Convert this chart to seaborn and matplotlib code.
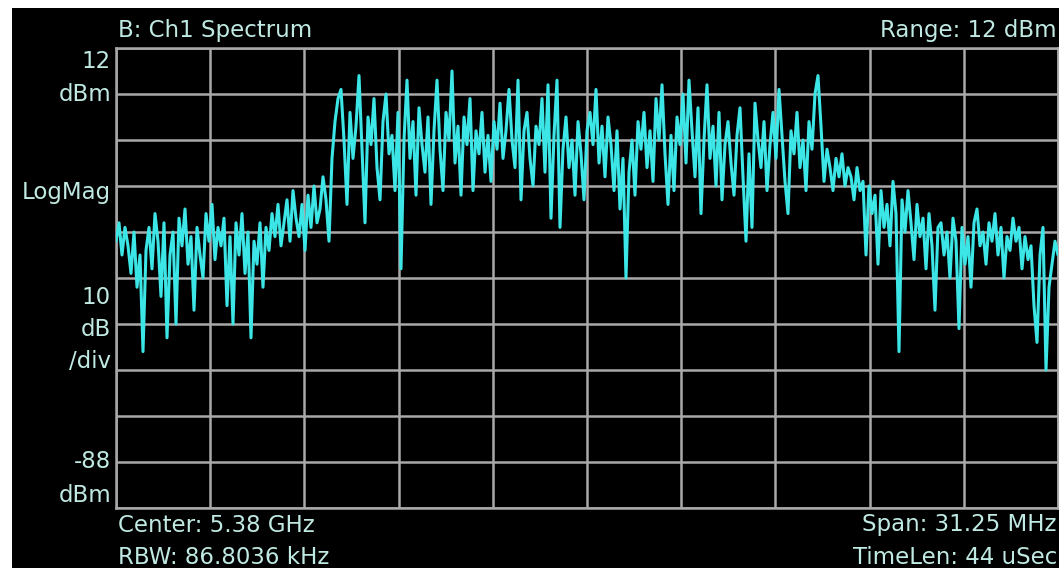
import numpy as np
import pandas as pd
import matplotlib
matplotlib.use("Agg")
import matplotlib.pyplot as plt
from matplotlib.patches import Rectangle
import seaborn as sns

# Analyzer settings
ref_level_dbm = 12
db_per_div = 10
n_div = 10
center_ghz = 5.38
span_mhz = 31.25

# Trace samples (dBm), left to right across the span
level_dbm = [
    -30, -26, -33, -27, -31, -37, -28, -40, -33, -54,
    -32, -27, -36, -24, -30, -42, -26, -51, -33, -28,
    -48, -25, -31, -23, -35, -29, -45, -27, -33, -38,
    -24, -30, -22, -34, -27, -31, -25, -44, -29, -48,
    -26, -33, -24, -37, -28, -51, -30, -35, -26, -40,
    -27, -32, -24, -29, -22, -31, -26, -21, -30, -19,
    -25, -29, -22, -32, -20, -27, -18, -26, -23, -16,
    -21, -30, -12, -4, 1,
    3, -8, -22, -2, -12, -5, 6, -10, -26, -3,
    -9, 1, -14, -21, -4, 2, -11, -7, -19, -2,
    -36, -8, 5, -12, -4, -20, -1, -9, -15, -3,
    -22, -6, 5, -10, -19, -2, -8, 7, -13, -5,
    -20, -3, -9, 1, -19, -6, -11, -2, -15, -7,
    -17, -4, -10, 0, -12, -6, 3, -8, -14, 5,
    -21, -6, -2, -12, -18, -5, -9, 1, -15, 4,
    -25, -7, 5, -27, -10, -3, -14, -8, -20, -4,
    -11, -21, -6, -2, -9, 3, -13, -5, -16, -3,
    -9, -19, -6, -23, -12, -38, -15, -8, -20, -4,
    -10, -2, -14, -6, -17, 1, -8, 4, -11, -22,
    -7, -19, -3, -9, 2, -13, 5, -6, -16, -1,
    -24, -8, 4, -12, -5, -18, -2, -21, -9, -4,
    -13, -20, -7, -1, -16, -30, -11, -27, 0, -8,
    -14, -4, -19, -9, -2, -12, 3, -7, -17, -24,
    -6, -11, -2, -14, -8, -19, -4, -10, 2, 6,
    -5, -17, -10, -14, -19, -12, -16, -11, -18, -14,
    -16, -21, -14, -19, -17, -33, -18, -24, -20, -35,
    -19, -27, -22, -31, -17, -24, -54, -21, -28, -19,
    -26, -34, -22, -29, -25, -36, -24, -31, -45, -27,
    -26, -33, -28, -38, -25, -30, -49, -27, -35, -29,
    -40, -26, -23, -31, -28, -35, -26, -30, -24, -33,
    -27, -38, -29, -32, -25, -30, -27, -36, -29, -34,
    -31, -44, -52, -33, -27, -58, -40, -35, -30, -33,
]

# Screen annotations
title_text = "B: Ch1 Spectrum"
range_text = "Range: 12 dBm"
scale_labels = [("12", 62), ("dBm", 95), ("LogMag", 193),
                ("10", 297), ("dB", 330), ("/div", 362),
                ("-88", 462), ("dBm", 495)]
footer_left = ["Center: 5.38 GHz", "RBW: 86.8036 kHz"]
footer_right = ["Span: 31.25 MHz", "TimeLen: 44 uSec"]

W, H = 1059, 568
TEXT_COLOR = "#bfe9e2"
GRID_COLOR = "#a9a9a9"
TRACE_COLOR = "#3ce6e6"

sns.set_style("dark", {"axes.facecolor": "black", "figure.facecolor": "white"})
plt.rcParams["font.family"] = ["DejaVu Sans"]

fig = plt.figure(figsize=(W / 100, H / 100), dpi=100, facecolor="white")
fig.patches.append(Rectangle((12 / W, 0), 1, (H - 8) / H, transform=fig.transFigure,
                             facecolor="black", edgecolor="none", zorder=-10))

ax = fig.add_axes([116 / W, 60 / H, 942 / W, 460 / H])
ax.set_zorder(1)
ax.set_facecolor("black")

half = span_mhz / 2
freq_mhz = np.linspace(-half, half, len(level_dbm))
trace = pd.DataFrame({"freq": freq_mhz, "level": level_dbm})
sns.lineplot(data=trace, x="freq", y="level", ax=ax, color=TRACE_COLOR,
             linewidth=2.2, zorder=3)

bottom = ref_level_dbm - db_per_div * n_div
ax.set_xlim(-half, half)
ax.set_ylim(bottom, ref_level_dbm)
ax.set_xticks(np.linspace(-half, half, n_div + 1))
ax.set_yticks(np.arange(bottom, ref_level_dbm + 1, db_per_div))
ax.set_axisbelow(True)
ax.grid(True, color=GRID_COLOR, linewidth=1.8)
ax.tick_params(length=0, labelbottom=False, labelleft=False)
ax.set_xlabel("")
ax.set_ylabel("")
for sp in ax.spines.values():
    sp.set_visible(True)
    sp.set_color(GRID_COLOR)
    sp.set_linewidth(1.8)


def put(text, x, y, ha="left"):
    fig.text(x / W, 1 - y / H, text, ha=ha, va="center", color=TEXT_COLOR,
             fontsize=16.5, zorder=5)


put(title_text, 118, 31)
put(range_text, 1057, 31, ha="right")
for label, y in scale_labels:
    put(label, 111, y, ha="right")
put(footer_left[0], 118, 525)
put(footer_left[1], 118, 557)
put(footer_right[0], 1057, 525, ha="right")
put(footer_right[1], 1057, 557, ha="right")

fig.savefig("out.png", dpi=100, facecolor="white")
